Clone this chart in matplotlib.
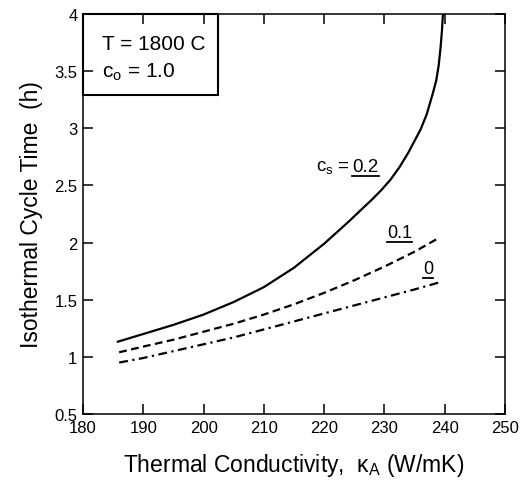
import matplotlib
matplotlib.use("Agg")
import matplotlib.pyplot as plt
from matplotlib.patches import Rectangle
from matplotlib.lines import Line2D
from matplotlib.transforms import IdentityTransform

plt.rcParams['font.family'] = ['Liberation Sans', 'DejaVu Sans']
plt.rcParams['mathtext.fontset'] = 'custom'
plt.rcParams['mathtext.rm'] = 'Liberation Sans'
plt.rcParams['mathtext.it'] = 'Liberation Sans:italic'

# data
k_solid = [185.6, 190, 195, 200, 205, 210, 215, 220, 224, 228, 229.5, 231, 232.5, 234, 235, 236,
           237, 238, 238.6, 239.0, 239.3, 239.55, 239.7]
t_solid = [1.13, 1.20, 1.28, 1.37, 1.48, 1.61, 1.78, 1.99, 2.18, 2.38, 2.46, 2.55, 2.66, 2.79, 2.89, 2.99,
           3.12, 3.30, 3.42, 3.55, 3.70, 3.86, 4.00]

k_dash = [186, 190, 195, 200, 205, 210, 215, 220, 225, 230, 235, 239]
t_dash = [1.04, 1.09, 1.15, 1.22, 1.29, 1.37, 1.46, 1.56, 1.67, 1.79, 1.92, 2.04]

k_dd = [186, 190, 195, 200, 205, 210, 215, 220, 225, 230, 235, 239]
t_dd = [0.95, 0.99, 1.05, 1.11, 1.17, 1.24, 1.31, 1.38, 1.45, 1.52, 1.59, 1.65]

xticks = [180, 190, 200, 210, 220, 230, 240, 250]
yticks = [0.5, 1, 1.5, 2, 2.5, 3, 3.5, 4]
ytick_labels = ['0.5', '1', '1.5', '2', '2.5', '3', '3.5', '4']
curve_labels = ['0.2', '0.1', '0']

fig = plt.figure(figsize=(5.23, 4.85), dpi=100)
ax = fig.add_axes([83/523, 1-415/485, (505-83)/523, (415-15)/485])

ax.plot(k_solid, t_solid, color='black', lw=1.6, solid_capstyle='butt')
ax.plot(k_dash, t_dash, color='black', lw=1.6, linestyle=(0, (3.5, 2.0)))
ax.plot(k_dd, t_dd, color='black', lw=1.6, linestyle=(0, (4.0, 2.0, 1.0, 2.0)))

ax.set_xlim(180, 250)
ax.set_ylim(0.5, 4)
ax.set_xticks(xticks)
ax.set_yticks(yticks)
ax.set_yticklabels(ytick_labels)
ax.tick_params(direction='in', length=7, width=1.1, top=True, right=True,
               labelsize=12, pad=4, colors='black')
for s in ax.spines.values():
    s.set_linewidth(1.1)

ax.set_xlabel('Thermal Conductivity,  κ$_\\mathrm{A}$ (W/mK)', fontsize=16.5, labelpad=12)
ax.set_ylabel('Isothermal Cycle Time  (h)', fontsize=16.5, labelpad=8)

# inset box
ax.add_patch(Rectangle((180, 3.29), 22.4, 0.71, fill=False, lw=1.5, edgecolor='black', clip_on=False))
ax.text(183.2, 3.745, 'T = 1800 C', fontsize=15, ha='left', va='center')
ax.text(183.2, 3.50, 'c$_\\mathrm{o}$ = 1.0', fontsize=15, ha='left', va='center')

# curve labels
ax.text(224.5, 2.67, 'c$_\\mathrm{s}$ = ', fontsize=13.5, ha='right', va='center')
lab_texts = [
    ax.text(224.7, 2.67, curve_labels[0], fontsize=13.5, ha='left', va='center'),
    ax.text(230.4, 2.09, curve_labels[1], fontsize=13, ha='left', va='center'),
    ax.text(237.2, 1.77, curve_labels[2], fontsize=13, ha='center', va='center'),
]

fig.canvas.draw()
r = fig.canvas.get_renderer()
for t in lab_texts:
    bb = t.get_window_extent(r)
    y = bb.y0 - 1.0
    fig.add_artist(Line2D([bb.x0, bb.x1], [y, y], transform=IdentityTransform(),
                          color='black', lw=1.3))

fig.savefig('out.png', dpi=100)
